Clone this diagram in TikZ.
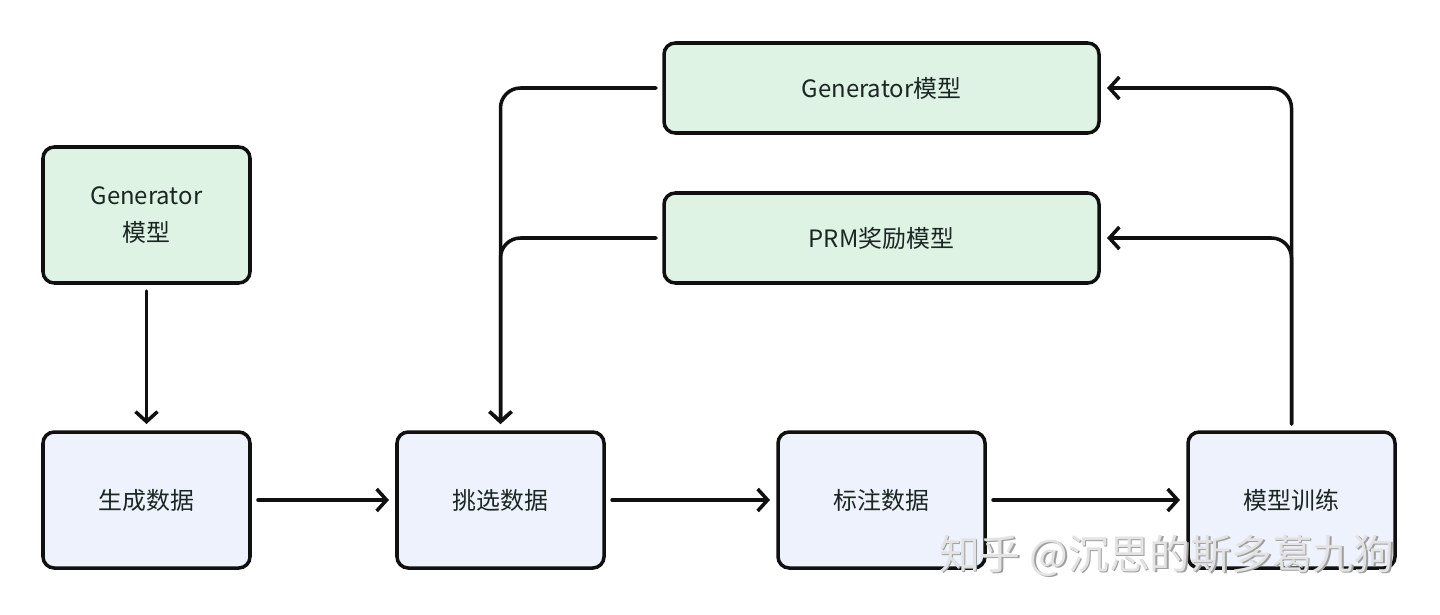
\documentclass[tikz,border=0pt]{standalone}
\usepackage{fontspec}
\newfontfamily\cjk{Noto Sans CJK SC}
\usetikzlibrary{positioning,arrows.meta}
\definecolor{modelgreen}{HTML}{DFF3E5}
\definecolor{stepblue}{HTML}{EEF2FC}
\definecolor{inkdark}{HTML}{1B2623}
\definecolor{lineblack}{HTML}{101010}

\begin{document}
\begin{tikzpicture}[
    node distance=3.725cm and 3.675cm,
    stepbox/.style={rectangle, rounded corners=8pt, draw=lineblack, fill=#1,
                    minimum width=5.175cm, minimum height=3.4cm, align=center,
                    line width=2.5pt, outer sep=0pt, text=inkdark,
                    font=\cjk\fontsize{17}{26}\selectfont},
    widebox/.style={stepbox=modelgreen, minimum width=10.875cm, minimum height=2.25cm},
    flow/.style={-{Straight Barb[length=0.25cm, width=0.55cm, line width=2.5pt]},
                 line width=2.5pt, draw=lineblack, line cap=round},
    feedback/.style={flow, rounded corners=0.5cm}
]
\useasboundingbox (0,0) rectangle (36,-15.35);

% left column
\node[stepbox=modelgreen] (genbox) at (3.6625,-5.375) {Generator\\模型};
\node[stepbox=stepblue, below=of genbox] (gendata) {生成数据};

% bottom row
\node[stepbox=stepblue, right=of gendata] (pickdata) {挑选数据};
\node[stepbox=stepblue, right=4.35cm of pickdata] (labeldata) {标注数据};
\node[stepbox=stepblue, right=5.075cm of labeldata] (traindata) {模型训练};

% models on top
\node[widebox, above=of labeldata] (prmmodel) {PRM奖励模型};
\node[widebox, above=1.5cm of prmmodel] (genmodel) {Generator模型};

% arrows
\draw[flow] ([yshift=-0.2cm]genbox.south) -- ([yshift=0.2cm]gendata.north);
\draw[flow] ([xshift=0.2cm]gendata.east) -- ([xshift=-0.2cm]pickdata.west);
\draw[flow] ([xshift=0.2cm]pickdata.east) -- ([xshift=-0.2cm]labeldata.west);
\draw[flow] ([xshift=0.2cm]labeldata.east) -- ([xshift=-0.2cm]traindata.west);

\draw[feedback] ([xshift=-0.2cm]genmodel.west) -| ([yshift=0.2cm]pickdata.north);
\draw[feedback] ([xshift=-0.2cm]prmmodel.west) -| ([yshift=0.2cm]pickdata.north);
\draw[feedback] ([yshift=0.2cm]traindata.north) |- ([xshift=0.2cm]genmodel.east);
\draw[feedback] ([yshift=0.2cm]traindata.north) |- ([xshift=0.2cm]prmmodel.east);

% watermark
\node[text=gray!75, font=\cjk\fontsize{29}{32}\selectfont] (markshadow) at (29.21,-13.93) {知乎 @沉思的斯多葛九狗};
\node[text=gray!22, font=\cjk\fontsize{29}{32}\selectfont] (mark) at (29.17,-13.89) {知乎 @沉思的斯多葛九狗};

\end{tikzpicture}
\end{document}
